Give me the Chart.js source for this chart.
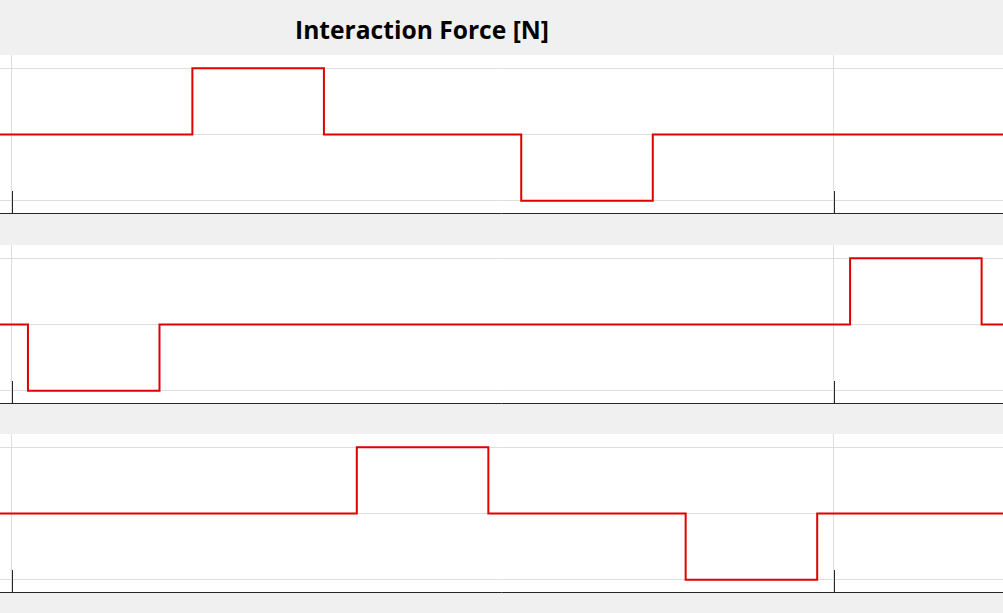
<!DOCTYPE html>
<html>
<head>
<meta charset="utf-8">
<script src="https://cdn.jsdelivr.net/npm/chart.js@4"></script>
<style>
  html, body { margin:0; padding:0; background:#f0f0f0; width:1003px; height:613px; overflow:hidden; }
  #title { position:absolute; left:0; top:13px; width:844px; text-align:center; font-family:"Open Sans", sans-serif; font-weight:bold; font-size:24.6px; line-height:34px; color:#000; }
  canvas { position:absolute; left:0; background:#fff; }
</style>
</head>
<body>
<div id="title">Interaction Force [N]</div>
<canvas id="c1" width="1003" height="159" style="top:55px;width:1003px;height:159px"></canvas>
<canvas id="c2" width="1003" height="159" style="top:245px;width:1003px;height:159px"></canvas>
<canvas id="c3" width="1003" height="159" style="top:434px;width:1003px;height:159px"></canvas>
<script>
// ---- data ----
const xMin = -0.07, xMax = 6.03;
const yMin = -1.2, yMax = 1.2;
const xTicks = [0, 5];
const yTicks = [-1, 0, 1];

const panel1Times  = [-0.07, 1.1, 1.9, 3.1, 3.9, 6.03];
const panel1Values = [0, 1, 0, -1, 0, 0];
const panel2Times  = [-0.07, 0.1, 0.9, 5.1, 5.9, 6.03];
const panel2Values = [0, -1, 0, 1, 0, 0];
const panel3Times  = [-0.07, 2.1, 2.9, 4.1, 4.9, 6.03];
const panel3Values = [0, 1, 0, -1, 0, 0];

const axisPlugin = {
  id: 'axisLine',
  afterDraw(chart) {
    const ctx = chart.ctx, ca = chart.chartArea, xs = chart.scales.x;
    ctx.save();
    ctx.strokeStyle = '#262626';
    ctx.lineWidth = 1;
    ctx.beginPath();
    ctx.moveTo(0, ca.bottom - 0.5);
    ctx.lineTo(chart.width, ca.bottom - 0.5);
    xTicks.forEach(v => {
      const px = Math.round(xs.getPixelForValue(v)) + 0.5;
      ctx.moveTo(px, ca.bottom);
      ctx.lineTo(px, ca.bottom - 23);
    });
    ctx.stroke();
    ctx.restore();
  }
};

function makePanel(id, times, values) {
  new Chart(document.getElementById(id), {
    type: 'line',
    data: {
      datasets: [{
        data: times.map((t, i) => ({ x: t, y: values[i] })),
        borderColor: '#e00000',
        borderWidth: 2,
        stepped: 'before',
        pointRadius: 0,
        fill: false
      }]
    },
    options: {
      responsive: false,
      animation: false,
      layout: { padding: 0 },
      plugins: { legend: { display: false }, tooltip: { enabled: false }, title: { display: false } },
      scales: {
        x: {
          type: 'linear', min: xMin, max: xMax,
          afterBuildTicks: s => { s.ticks = xTicks.map(v => ({ value: v })); },
          ticks: { display: false },
          grid: { color: '#dedede', lineWidth: 1, drawTicks: false },
          border: { display: false }
        },
        y: {
          type: 'linear', min: yMin, max: yMax,
          afterBuildTicks: s => { s.ticks = yTicks.map(v => ({ value: v })); },
          ticks: { display: false },
          grid: { color: '#dedede', lineWidth: 1, drawTicks: false },
          border: { display: false }
        }
      }
    },
    plugins: [axisPlugin]
  });
}

makePanel('c1', panel1Times, panel1Values);
makePanel('c2', panel2Times, panel2Values);
makePanel('c3', panel3Times, panel3Values);
</script>
</body>
</html>
